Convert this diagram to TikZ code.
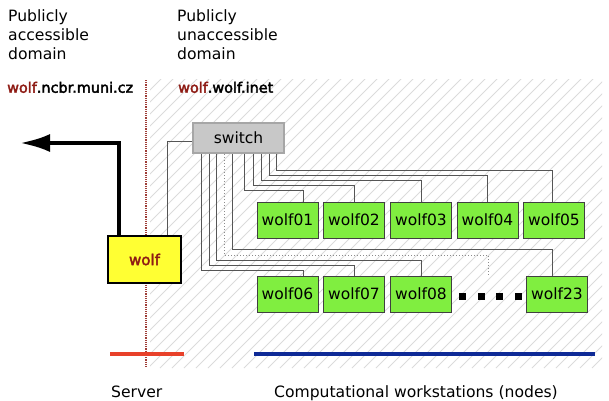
\documentclass[tikz,border=0pt]{standalone}
\usepackage{fontspec}
\setmainfont{DejaVu Sans}
\newfontfamily\hostfont[FakeBold=2.5]{DejaVu Sans}
\usetikzlibrary{arrows.meta,calc}
\definecolor{wfgreen}{HTML}{80EE40}
\definecolor{wfyellow}{HTML}{FFFF33}
\definecolor{wfswitch}{HTML}{C8C8C8}
\definecolor{wfdark}{HTML}{8E1B14}
\definecolor{wfred}{HTML}{E8412A}
\definecolor{wfblue}{HTML}{0E2A96}
\definecolor{wfwire}{HTML}{555555}

\begin{document}
\begin{tikzpicture}[x=1pt,y=-1pt,
  txt/.style={font=\fontsize{15.6}{19.2}\selectfont, inner sep=0pt},
  host/.style={font=\hostfont\fontsize{14.4}{16}\selectfont, inner sep=0pt},
  ws/.style={draw=black!75, fill=wfgreen, minimum width=61pt, minimum height=36pt, inner sep=0pt, font=\fontsize{15.5}{18}\selectfont},
  wire/.style={draw=wfwire, line width=1pt},
  hatch/.style={draw=black!14, line width=0.8pt},
]
\useasboundingbox (0,0) rectangle (609,400);
% private zone: hatched, right of the border line
\begin{scope}
  \clip (150,79) rectangle (602,368);
  \foreach \i in {0,12,...,744}
    \draw[hatch] (\i-140,368) -- ++(290,-290);
\end{scope}
\draw[wfdark!85, line width=2pt, dash pattern=on 1.2pt off 1pt] (146,80) -- (146,368);

% headings
\node[txt, anchor=north west, align=left] (pub) at (8,9.5) {Publicly\\accessible\\domain};
\node[txt, anchor=north west, align=left] (priv) at (177,9.5) {Publicly\\unaccessible\\domain};
\node[host, anchor=base west] (extname) at (7,92.7) {\textcolor{wfdark}{wolf}.ncbr.muni.cz};
\node[host, anchor=base west] (intname) at (178,92.7) {\textcolor{wfdark}{wolf}.wolf.inet};

% server and switch
\node[draw=black, line width=2.5pt, fill=wfyellow, minimum width=73pt, minimum height=47pt,
      font=\hostfont\fontsize{15}{17}\selectfont\color{wfdark}] (wolf) at (144.5,259.5) {wolf};
\node[draw=black!35, line width=2pt, fill=wfswitch, minimum width=91pt, minimum height=30pt,
      font=\fontsize{15.5}{18}\selectfont] (sw) at (238.5,138) {switch};
\coordinate (net) at (20,143);
\draw[line width=4pt, -{Latex[length=30pt,width=18pt]}] ($(wolf.north west)+(12,0)$) |- (net);
\draw[wire] ($(sw.west)+(0,3)$) -| ($(wolf.north east)+(-15,0)$);

% workstations
\foreach \n/\x/\y in {01/287.5/220, 02/354/220, 03/421/220, 04/487.5/220, 05/554/220,
                      06/287.5/294, 07/354/294, 08/421/294, 23/557/294}
  \node[ws] (w\n) at (\x,\y) {wolf\n};
\coordinate (more) at (488,276);
\foreach \x in {462,481,499,518}
  \fill (\x-3.5,292.5) rectangle ++(7,7);

% cabling
\foreach \dx/\rise/\w/\off in {52/11/w01/15.5, 61/16/w02/0, 69/21/w03/0, 77/26/w04/0, 84/31/w05/-2,
                               9/5.5/w06/15.5, 17/10.5/w07/0, 24/15.5/w08/0, 40/26/w23/-4.5}
  \draw[wire] ($(sw.south west)+(\dx,0)$) |- ($(\w.north)+(\off,-\rise)$) -- ($(\w.north)+(\off,0)$);
\draw[wire, draw=black!45, dotted] ($(sw.south west)+(32,0)$) |- ($(more)+(0,-21)$) -- (more);

% zone bars
\draw[wfred, line width=4pt] (110,354) -- (184,354);
\draw[wfblue, line width=4pt] (254,354) -- (595,354);
\node[txt, anchor=base west] (srv) at (111,397.5) {Server};
\node[txt, anchor=base west] (cws) at (274,397.5) {Computational workstations (nodes)};
\end{tikzpicture}
\end{document}
